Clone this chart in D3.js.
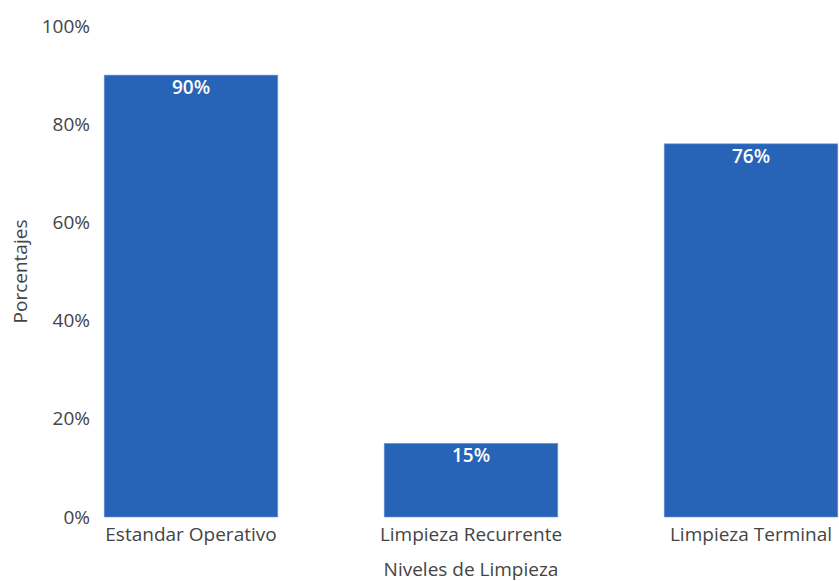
<!DOCTYPE html>
<html>
<head>
<meta charset="utf-8">
<script src="https://cdn.jsdelivr.net/npm/d3@7"></script>
<style>
  html, body { margin: 0; padding: 0; background: #fff; }
  svg { display: block; font-family: "Open Sans", sans-serif; }
</style>
</head>
<body>
<svg id="chart" width="839" height="581"></svg>
<script>
// Cleaning levels and their percentage values
const categories = ["Estandar Operativo", "Limpieza Recurrente", "Limpieza Terminal"];
const values = [90, 15, 76];
const yTicks = [0, 20, 40, 60, 80, 100];
const xTitle = "Niveles de Limpieza";
const yTitle = "Porcentajes";

const svg = d3.select("#chart");
const plotTop = 26, plotBottom = 517, plotLeft = 51, plotRight = 891;
const fontSize = "19px";
const textColor = "#444";

const x = d3.scaleBand()
  .domain(categories)
  .range([plotLeft, plotRight])
  .paddingInner(0.38)
  .paddingOuter(0.19);

const y = d3.scaleLinear().domain([0, 100]).range([plotBottom, plotTop]);

// Y axis: labels only
const yAxis = d3.axisLeft(y).tickValues(yTicks).tickFormat(d => d + "%").tickSize(0).tickPadding(0);
const gy = svg.append("g").attr("transform", "translate(90,0)").call(yAxis);
gy.select(".domain").remove();
gy.selectAll("text").attr("fill", textColor).style("font-size", fontSize).style("font-family", "'Open Sans', sans-serif");

// X axis: labels only
const xAxis = d3.axisBottom(x).tickSize(0).tickPadding(0);
const gx = svg.append("g").attr("transform", `translate(0,${plotBottom + 24})`).call(xAxis);
gx.select(".domain").remove();
gx.selectAll("text").attr("fill", textColor).attr("dy", 0)
  .style("font-size", fontSize).style("font-family", "'Open Sans', sans-serif");

// Bars
svg.append("g").selectAll("rect")
  .data(values)
  .join("rect")
  .attr("x", (d, i) => x(categories[i]))
  .attr("y", d => y(d))
  .attr("width", x.bandwidth())
  .attr("height", d => y(0) - y(d))
  .attr("fill", "#2764b8")
  .attr("stroke", "#6f9ad6")
  .attr("stroke-width", 0.6);

// Value labels inside bar tops
svg.append("g").selectAll("text")
  .data(values)
  .join("text")
  .attr("x", (d, i) => x(categories[i]) + x.bandwidth() / 2)
  .attr("y", d => y(d) + 19)
  .attr("text-anchor", "middle")
  .attr("fill", "#fff")
  .style("font-size", fontSize)
  .style("font-weight", 600)
  .text(d => d + "%");

// Axis titles
svg.append("text")
  .attr("x", x(categories[1]) + x.bandwidth() / 2)
  .attr("y", 576)
  .attr("text-anchor", "middle")
  .attr("fill", textColor)
  .style("font-size", fontSize)
  .text(xTitle);

svg.append("text")
  .attr("transform", `translate(27,${(plotTop + plotBottom) / 2}) rotate(-90)`)
  .attr("text-anchor", "middle")
  .attr("fill", textColor)
  .style("font-size", fontSize)
  .text(yTitle);
</script>
</body>
</html>
